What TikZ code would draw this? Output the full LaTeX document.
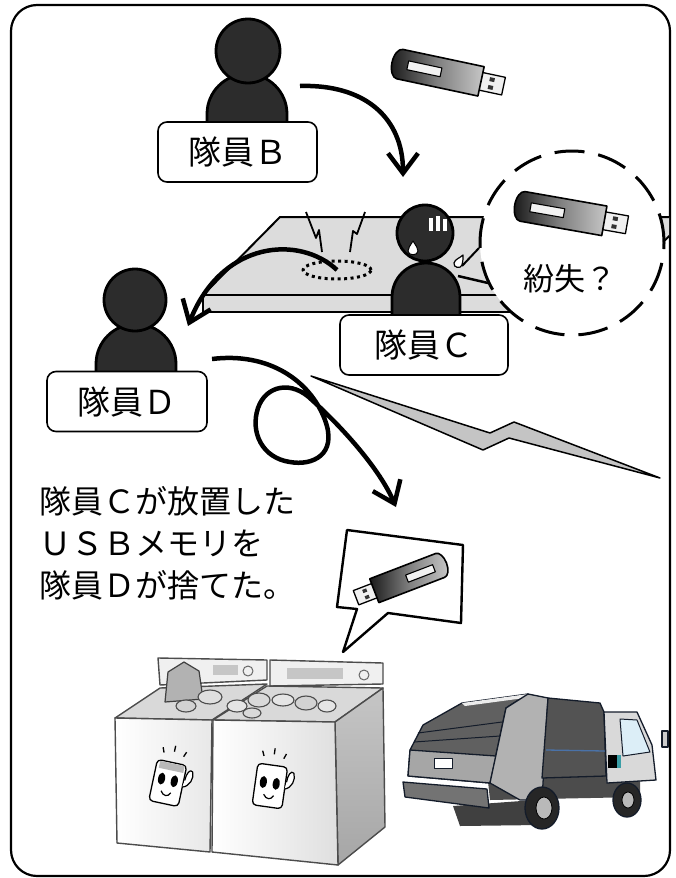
\documentclass[tikz,border=0pt]{standalone}
\usepackage{fontspec}
\newfontfamily\jpfont{Noto Sans CJK JP}
\usetikzlibrary{arrows.meta,shapes.geometric}
\definecolor{personfill}{HTML}{2C2C2C}
\definecolor{deskgray}{HTML}{DCDCDC}
\definecolor{boltgray}{HTML}{C4C4C4}
\definecolor{truckline}{HTML}{141C2A}
\definecolor{cabglass}{HTML}{DCEEF7}
\definecolor{bodystripe}{HTML}{4A72A8}
\definecolor{cabteal}{HTML}{3A9EA6}
\begin{document}
\begin{tikzpicture}[x=1pt,y=-1pt,line join=round,
  person/.style={fill=personfill,draw=black,line width=2.8pt},
  namebox/.style={draw=black,line width=1.6pt,fill=white,rounded corners=9pt,inner sep=0pt,
    minimum height=60pt,font=\jpfont\fontsize{33}{33}\selectfont},
  flow/.style={line width=4.5pt,-{Straight Barb[length=20pt,width=30pt]}},
  desk/.style={fill=deskgray,draw=black,line width=2pt},
  binline/.style={draw=black!70,line width=1.4pt},
  truckedge/.style={draw=truckline,line width=1.3pt},
  usb/.pic={
    % plug
    \filldraw[line width=1.3pt,fill=gray!12] (43,-9) rectangle (68,9);
    \fill[black!80] (53,-6) rectangle (58,-2);
    \fill[black!80] (53,2) rectangle (58,6);
    % casing
    \filldraw[line width=1.6pt,left color=black!90,right color=black!22,middle color=black!50]
      (45,15) -- (-38,15) arc[start angle=90,end angle=270,x radius=8,y radius=15] -- (45,-15) -- cycle;
    % label window
    \filldraw[line width=1.1pt,fill=gray!10] (-30,-5) rectangle (4,4);
  },
  binface/.pic={
    \draw[line width=1.3pt,fill=white,rounded corners=4pt] (-15,-20) rectangle (15,22);
    \fill (-7,-2) ellipse[x radius=3.5,y radius=6];
    \fill (6,-2) ellipse[x radius=3.5,y radius=6];
    \draw[line width=1.2pt] (-5,10) .. controls (-2,15) and (3,15) .. (5,10);
    \draw[line width=1.2pt,fill=white] (15,2) .. controls (22,0) and (25,-9) .. (22,-15)
      .. controls (19,-18) and (16,-12) .. (16,-5);
    \draw[line width=1.3pt] (-12,-33) -- (-10,-28) (0,-37) -- (0,-31) (12,-33) -- (10,-28);
  }
]
\useasboundingbox (0,0) rectangle (676,878);

% outer frame
\draw[line width=2.2pt,rounded corners=26pt] (11,5) rectangle (670,876);

% ---- desk with the lost spot ----
\begin{scope}
  \clip (11,5) rectangle (669,876);
  \filldraw[desk] (280,217) -- (688,217) -- (611,295) -- (203,295) -- cycle;
  \filldraw[desk] (203,295) rectangle (611,312);
\end{scope}
\node[ellipse,draw=black,line width=3pt,dash pattern=on 3pt off 3.5pt,
  minimum width=68pt,minimum height=18pt,inner sep=0pt] (spot) at (337,270) {};
\draw[line width=1.8pt] (306,212) -- (316,238) -- (319,230) -- (322,252);
\draw[line width=1.8pt] (365,212) -- (357,234) -- (353,231) -- (350,252);

% ---- lost memory bubble ----
\node[circle,draw=black,fill=white,line width=3pt,dash pattern=on 30pt off 14pt,
  minimum size=184pt,inner sep=0pt] (lost) at (572,243) {};
\pic[rotate=-10] at (560,213) {usb};
\node[font=\jpfont\fontsize{31}{31}\selectfont] (lostText) at (570,279) {紛失？};

% ---- top memory stick ----
\pic[rotate=-12] at (437,72) {usb};

% ---- member B ----
\path[person] (207,124) -- (207,114) arc[start angle=180,end angle=360,radius=40] -- (287,124) -- cycle;
\path[person] (248,51) circle[radius=32];
\node[namebox,minimum width=159pt] (lblB) at (237.5,152) {隊員Ｂ};

% ---- member C ----
\path[person] (392,318) -- (392,297) arc[start angle=180,end angle=360,radius=34] -- (460,318) -- cycle;
\path[person] (425,233) circle[radius=28];
\fill[white] (429,218) rectangle (432.5,231);
\fill[white] (436,216) rectangle (439.5,231);
\fill[white] (443,219) rectangle (446.5,231);
\filldraw[fill=white,draw=black,line width=1pt] (413,241) .. controls (410,246) and (408,248) .. (408,251)
  .. controls (408,256) and (418,256) .. (418,251) .. controls (418,248) and (416,246) .. (413,241) -- cycle;
\filldraw[fill=white,draw=black,line width=1.2pt] (463,255) .. controls (460,258) and (455,259) .. (454,263)
  .. controls (453,268) and (461,269) .. (462,265) .. controls (463,262) and (463,259) .. (463,255) -- cycle;
\draw[line width=2pt] (462,266) -- (479,248);
\draw[line width=2.5pt] (458,276) -- (488,283);
\node[namebox,minimum width=168pt] (lblC) at (424,345) {隊員Ｃ};

% ---- member D ----
\path[person] (96,374) -- (96,364) arc[start angle=180,end angle=360,radius=40] -- (176,374) -- cycle;
\path[person] (135,300) circle[radius=31];
\node[namebox,minimum width=160pt] (lblD) at (127,401.5) {隊員Ｄ};

% ---- hand-over arrows ----
\coordinate (bOut) at (300,86);
\coordinate (cIn) at (403,177);
\draw[flow] (bOut) .. controls (365,84) and (403,118) .. (cIn);
\coordinate (dIn) at (188,326);
\draw[flow] (spot.center) .. controls (300,235) and (222,240) .. (dIn);
\coordinate (dOut) at (212,359);
\coordinate (binIn) at (396,507);
\draw[flow] (dOut) .. controls (268,352) and (310,380) .. (325,420)
  .. controls (338,455) and (312,466) .. (290,462)
  .. controls (262,458) and (250,432) .. (258,408)
  .. controls (266,385) and (292,380) .. (312,400)
  .. controls (345,430) and (380,470) .. (binIn);

% ---- lightning ----
\filldraw[fill=boltgray,draw=black,line width=1.5pt]
  (311,376) -- (490,433) -- (514,422) -- (660,478) -- (509,438) -- (483,450) -- cycle;

% ---- caption ----
\node[anchor=north west,align=left,inner sep=0pt,font=\jpfont\fontsize{32}{42}\selectfont] (note)
  at (39,486) {隊員Ｃが放置した\\ＵＳＢメモリを\\隊員Ｄが捨てた。};

% ---- speech bubble ----
\filldraw[fill=white,draw=black,line width=2.4pt] (347,530) -- (463,545) -- (461,623) -- (388,613)
  -- (343,652) -- (357,609) -- (337,607) -- cycle;
\pic[rotate=201,scale=0.85] at (410,577) {usb};

% ---- dust bins ----
\filldraw[binline,fill=gray!12] (158,658) -- (267,660) -- (267,680) -- (160,685) -- cycle;
\filldraw[binline,fill=gray!12] (270,660) -- (383,663) -- (383,684) -- (270,686) -- cycle;
\fill[gray!45] (213,665) rectangle (238,675);
\draw[black!60,line width=1pt] (248,671) circle[radius=5];
\fill[gray!45] (287,668) rectangle (343,679);
\draw[black!60,line width=1pt] (364,675) circle[radius=5];
\filldraw[binline,fill=gray!30] (115,718) -- (160,688) -- (267,684) -- (212,720) -- cycle;
\filldraw[binline,fill=gray!30] (213,720) -- (267,686) -- (383,688) -- (335,722) -- cycle;
% rubbish inside
\filldraw[fill=gray!60,draw=black!75,line width=1.2pt] (165,702) -- (168,672) -- (184,662) -- (199,671) -- (203,699) -- cycle;
\filldraw[fill=gray!25,draw=black!70,line width=1.1pt] (210,697) ellipse[x radius=12,y radius=7];
\filldraw[fill=gray!35,draw=black!70,line width=1.1pt] (186,706) ellipse[x radius=10,y radius=6];
\filldraw[fill=gray!20,draw=black!70,line width=1.1pt] (237,706) ellipse[x radius=10,y radius=6];
\filldraw[fill=gray!30,draw=black!70,line width=1.1pt] (259,700) ellipse[x radius=11,y radius=7];
\filldraw[fill=gray!20,draw=black!70,line width=1.1pt] (283,700) ellipse[x radius=11,y radius=6];
\filldraw[fill=gray!35,draw=black!70,line width=1.1pt] (306,703) ellipse[x radius=11,y radius=7];
\filldraw[fill=gray!20,draw=black!70,line width=1.1pt] (327,706) ellipse[x radius=9,y radius=6];
\filldraw[fill=gray!30,draw=black!70,line width=1.1pt] (252,713) ellipse[x radius=9,y radius=5];
% side and fronts
\filldraw[binline,top color=gray!45,bottom color=gray!70] (335,722) -- (383,688) -- (385,827) -- (338,865) -- cycle;
\filldraw[binline,left color=white,right color=gray!18] (115,718) -- (212,720) -- (210,852) -- (117,843) -- cycle;
\filldraw[binline,left color=white,right color=gray!25] (213,720) -- (335,722) -- (338,865) -- (212,852) -- cycle;
\pic[rotate=-12] at (168,782) {binface};
\fill[gray!55,rotate around={-12:(168,782)}] (156,763) rectangle (181,770);
\pic[rotate=-8] at (270,785) {binface};

% ---- garbage truck ----
\fill[black!75] (453,806) -- (535,800) -- (540,825) -- (460,826) -- cycle;
\fill[black!70] (487,772) -- (640,777) -- (640,797) -- (490,800) -- cycle;
\filldraw[truckedge,fill=black!55] (403,782) -- (487,789) -- (489,808) -- (405,797) -- cycle;
\filldraw[truckedge,fill=gray!75!black] (423,725) -- (462,703) -- (528,694) -- (506,708) -- (490,783) -- (408,776) -- (410,750) -- cycle;
\filldraw[truckedge,fill=gray!70] (410,750) -- (496,756) -- (490,783) -- (408,776) -- cycle;
\draw[truckline,line width=1pt] (418,733) -- (502,722) (414,742) -- (500,736);
\filldraw[fill=white,draw=truckline,line width=0.8pt] (434,758) rectangle (452,768);
\fill[gray!15] (462,703) -- (528,694) -- (532,697) -- (465,706) -- cycle;
\filldraw[truckedge,fill=gray!60] (506,708) -- (528,694) -- (548,698) -- (542,800) -- (520,800) -- (490,783) -- cycle;
\filldraw[truckedge,fill=gray!65!black] (548,698) -- (600,703) -- (604,712) -- (606,776) -- (542,778) -- cycle;
\draw[bodystripe,line width=1.3pt] (546,750) -- (605,751);
\filldraw[truckedge,fill=gray!30] (604,712) -- (637,712) -- (652,745) -- (656,780) -- (607,783) -- cycle;
\filldraw[draw=truckline,line width=1pt,fill=cabglass] (620,719) -- (637,720) -- (650,752) -- (623,756) -- cycle;
\fill[black] (608,755) rectangle (617,768);
\fill[cabteal] (617,755) rectangle (621,768);
\filldraw[truckedge,fill=gray!40] (662,731) rectangle (668,747);
\filldraw[truckedge,fill=black!85] (542,808) ellipse[x radius=17,y radius=21];
\filldraw[draw=black,fill=gray!55,line width=0.8pt] (544,808) ellipse[x radius=8,y radius=11];
\filldraw[truckedge,fill=black!85] (627,800) ellipse[x radius=14,y radius=17];
\filldraw[draw=black,fill=gray!55,line width=0.8pt] (628,800) ellipse[x radius=6,y radius=8];
\end{tikzpicture}
\end{document}
